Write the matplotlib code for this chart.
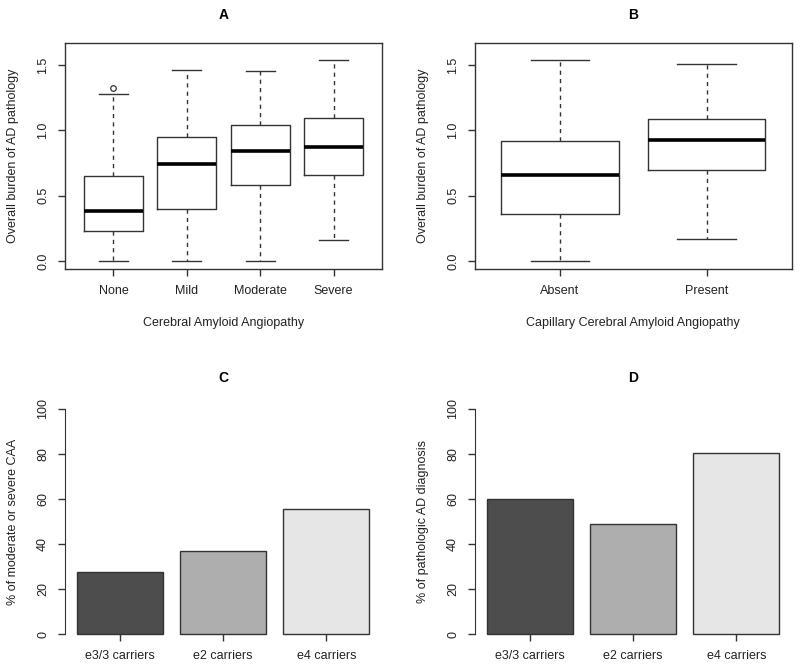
import numpy as np
import matplotlib
matplotlib.use("Agg")
import matplotlib.pyplot as plt

plt.rcParams['font.family'] = ['Liberation Sans', 'DejaVu Sans']
plt.rcParams['font.size'] = 9

# panel A: CAA severity
caa_groups = ["None", "Mild", "Moderate", "Severe"]
caa_lo = [0.0, 0.0, 0.0, 0.163]
caa_q1 = [0.230, 0.398, 0.582, 0.661]
caa_med = [0.380, 0.745, 0.844, 0.872]
caa_q3 = [0.653, 0.952, 1.041, 1.094]
caa_hi = [1.281, 1.462, 1.452, 1.536]
caa_out = [[1.324], [], [], []]

# panel B: capillary CAA
cap_groups = ["Absent", "Present"]
cap_lo = [0.0, 0.168]
cap_q1 = [0.362, 0.696]
cap_med = [0.661, 0.929]
cap_q3 = [0.921, 1.084]
cap_hi = [1.536, 1.508]
cap_out = [[], []]

# panels C and D: APOE groups
apoe_groups = ["e3/3 carriers", "e2 carriers", "e4 carriers"]
pct_caa = [27.5, 37.1, 55.5]
pct_ad = [60.1, 49.0, 80.6]
bar_cols = ["#4D4D4D", "#AEAEAE", "#E6E6E6"]

line_col = "#333333"

fig = plt.figure(figsize=(8, 6.7), dpi=100)
axA = fig.add_axes([65/800, 1-269.3/670, 317/800, 226/670])
axB = fig.add_axes([475/800, 1-269.3/670, 316.7/800, 226/670])
axC = fig.add_axes([65/800, 1-634.3/670, 316/800, 225.3/670])
axD = fig.add_axes([475/800, 1-634.3/670, 316/800, 225.3/670])


def boxpanel(ax, groups, lo, q1, med, q3, hi, out, xlab, title):
    stats = []
    for i in range(len(groups)):
        stats.append(dict(whislo=lo[i], q1=q1[i], med=med[i], q3=q3[i],
                          whishi=hi[i], fliers=out[i]))
    n = len(groups)
    ax.bxp(stats, positions=np.arange(1, n + 1), widths=0.8, capwidths=0.4,
           boxprops=dict(color=line_col, linewidth=1.0),
           whiskerprops=dict(color=line_col, linewidth=1.0, linestyle=(0, (3, 3))),
           capprops=dict(color=line_col, linewidth=1.0),
           medianprops=dict(color="black", linewidth=2.6, solid_capstyle="butt"),
           flierprops=dict(marker="o", markersize=4, markerfacecolor="none",
                           markeredgecolor=line_col, markeredgewidth=0.9))
    ext = 0.04 * n
    ax.set_xlim(0.5 - ext, n + 0.5 + ext)
    ax.set_ylim(-0.064, 1.666)
    ax.set_yticks([0.0, 0.5, 1.0, 1.5])
    ax.set_yticklabels(["0.0", "0.5", "1.0", "1.5"])
    ax.set_xticks(np.arange(1, n + 1))
    ax.set_xticklabels(groups)
    for s in ax.spines.values():
        s.set_color(line_col)
        s.set_linewidth(1.0)
    ax.set_ylabel("Overall burden of AD pathology", va="center")
    ax.yaxis.set_label_coords(-0.164, 0.5)
    ax.set_xlabel(xlab, va="center")
    ax.xaxis.set_label_coords(0.5, -0.239)
    ax.set_title(title, fontweight="bold", fontsize=10, y=1.125, va="center", pad=0)


def barpanel(ax, vals, ylab, title):
    xs = 0.7 + 1.2 * np.arange(len(vals))
    ax.bar(xs, vals, width=1.0, color=bar_cols, edgecolor=line_col,
           linewidth=1.0, clip_on=False)
    ax.set_xlim(0.064, 3.736)
    ax.set_ylim(0, 100)
    ax.set_yticks([0, 20, 40, 60, 80, 100])
    ax.set_xticks(xs)
    ax.set_xticklabels(apoe_groups)
    for k in ["top", "right", "bottom"]:
        ax.spines[k].set_visible(False)
    ax.spines["left"].set_color(line_col)
    ax.spines["left"].set_bounds(0, 100)
    ax.spines["left"].set_position(("data", 0.064))
    ax.set_ylabel(ylab, va="center")
    ax.yaxis.set_label_coords(-0.165, 0.5)
    ax.set_title(title, fontweight="bold", fontsize=10, y=1.138, va="center", pad=0)


boxpanel(axA, caa_groups, caa_lo, caa_q1, caa_med, caa_q3, caa_hi, caa_out,
         "Cerebral Amyloid Angiopathy", "A")
boxpanel(axB, cap_groups, cap_lo, cap_q1, cap_med, cap_q3, cap_hi, cap_out,
         "Capillary Cerebral Amyloid Angiopathy", "B")
barpanel(axC, pct_caa, "% of moderate or severe CAA", "C")
barpanel(axD, pct_ad, "% of pathologic AD diagnosis", "D")

for ax in [axA, axB, axC, axD]:
    ax.tick_params(axis="both", length=5, width=1.0, color=line_col,
                   pad=6.5, labelsize=9, labelcolor="#222222")
    ax.tick_params(axis="y", labelrotation=90)
    plt.setp(ax.get_yticklabels(), va="center")
    ax.yaxis.label.set_color("#222222")
    ax.xaxis.label.set_color("#222222")

fig.savefig("out.png", dpi=100)
